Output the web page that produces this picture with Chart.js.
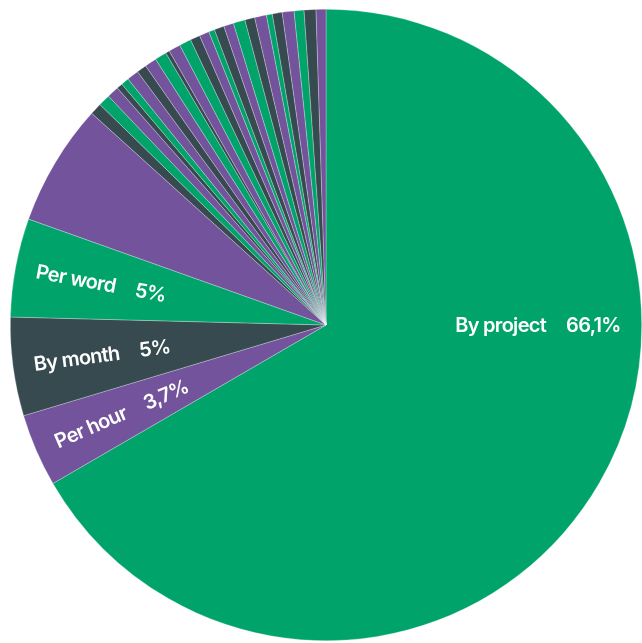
<!DOCTYPE html>
<html>
<head>
<meta charset="utf-8">
<script src="https://cdn.jsdelivr.net/npm/chart.js@4/dist/chart.umd.min.js"></script>
<style>
  html, body { margin: 0; padding: 0; background: #ffffff; }
  canvas { display: block; }
</style>
</head>
<body>
<canvas id="pricingChart" width="642" height="643"></canvas>
<script>
// Pricing models, clockwise from 12 o'clock
const categories = [
    'By project', 'Per hour', 'By month', 'Per word', 'Other',
    'Other 1', 'Other 2', 'Other 3', 'Other 4', 'Other 5', 'Other 6', 'Other 7',
    'Other 8', 'Other 9', 'Other 10', 'Other 11', 'Other 12', 'Other 13',
    'Other 14', 'Other 15', 'Other 16', 'Other 17', 'Other 18', 'Other 19',
    'Other 20', 'Other 21', 'Other 22', 'Other 23', 'Other 24', 'Other 25', 'Other 26'
];
const shares = [
    66.1, 3.7, 5, 5, 6.2,
    0.6, 0.6, 0.6, 0.3, 0.4, 0.6, 0.5,
    0.6, 0.6, 0.2, 0.6, 0.6, 0.5,
    0.5, 0.3, 0.5, 0.5, 0.6, 0.5,
    0.6, 0.3, 0.5, 0.6, 0.5, 0.6, 0.5
];
// Text shown on the slices
const shownLabels = ['By project', 'Per hour', 'By month', 'Per word'];
const shownValues = ['66,1%', '3,7%', '5%', '5%'];

const GREEN = '#00a46b';
const PURPLE = '#72539c';
const DARK = '#364a50';

const sliceColors = [
    GREEN, PURPLE, DARK, GREEN, PURPLE,
    DARK, GREEN, PURPLE, DARK, GREEN, PURPLE, DARK,
    PURPLE, GREEN, DARK, PURPLE, GREEN, DARK,
    PURPLE, GREEN, DARK, PURPLE, GREEN, DARK,
    PURPLE, GREEN, DARK, PURPLE, GREEN, DARK, PURPLE
];

// Draws "name   value" along each labelled slice, reading left to right
const sliceLabels = {
    id: 'sliceLabels',
    afterDatasetsDraw(chart) {
        const ctx = chart.ctx;
        const arcs = chart.getDatasetMeta(0).data;
        const gap = 20;
        ctx.save();
        ctx.font = '600 20px Inter, "Noto Sans", sans-serif';
        ctx.letterSpacing = '-0.7px';
        ctx.fillStyle = '#ffffff';
        ctx.textBaseline = 'middle';
        shownLabels.forEach((name, i) => {
            const arc = arcs[i];
            const p = arc.getProps(['x', 'y', 'startAngle', 'endAngle', 'outerRadius', 'circumference'], true);
            // the big slice gets a flat label at 3 o'clock
            const ang = p.circumference > Math.PI ? 0 : (p.startAngle + p.endAngle) / 2;
            const rOut = p.outerRadius - 21;
            const value = shownValues[i];
            const nameW = ctx.measureText(name).width;
            const valueW = ctx.measureText(value).width;
            ctx.save();
            ctx.translate(p.x, p.y);
            ctx.textAlign = 'left';
            if (Math.cos(ang) >= 0) {
                ctx.rotate(ang);
                const start = rOut - valueW - gap - nameW;
                ctx.fillText(name, start, 1);
                ctx.fillText(value, start + nameW + gap, 1);
            } else {
                ctx.rotate(ang + Math.PI);
                ctx.fillText(name, -rOut, 1);
                ctx.fillText(value, -rOut + nameW + gap, 1);
            }
            ctx.restore();
        });
        ctx.restore();
    }
};

const ctx = document.getElementById('pricingChart').getContext('2d');
new Chart(ctx, {
    type: 'pie',
    data: {
        labels: categories,
        datasets: [{
            data: shares,
            backgroundColor: sliceColors,
            borderColor: 'rgba(255, 255, 255, 0.45)',
            borderWidth: 0.6
        }]
    },
    options: {
        responsive: false,
        animation: false,
        devicePixelRatio: 1,
        layout: {
            padding: { left: 10, right: 0, top: 9, bottom: 2 }
        },
        plugins: {
            legend: { display: false },
            tooltip: { enabled: false }
        }
    },
    plugins: [sliceLabels]
});
</script>
</body>
</html>
